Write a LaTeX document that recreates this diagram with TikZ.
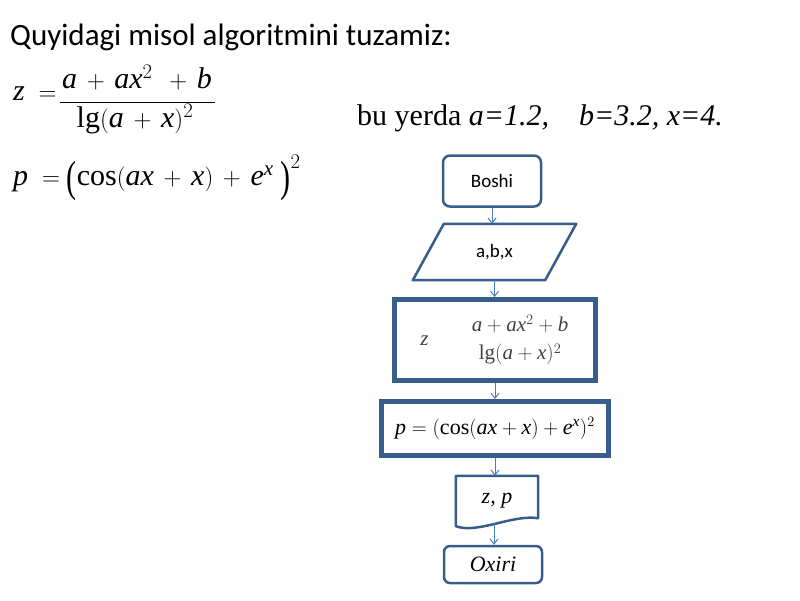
\documentclass[tikz,border=0pt]{standalone}
\usepackage{amsmath}
\usepackage{fontspec}
\setmainfont{Liberation Serif}
\newfontfamily\calib{Carlito}
\usetikzlibrary{arrows.meta}
\definecolor{boxblue}{HTML}{385D8A}
\definecolor{arrblue}{HTML}{4A7EBB}
\newcommand{\tallopen}{\mathopen{\raisebox{-0.2em}{\scalebox{1}[1.45]{(}}}}
\newcommand{\tallclose}{\mathclose{\raisebox{-0.2em}{\scalebox{1}[1.45]{)}}}}
\tikzset{
  termbox/.style={draw=boxblue, line width=2.5pt, rounded corners=7pt, minimum width=98pt, minimum height=51pt, inner sep=0pt},
  procbox/.style={draw=boxblue, line width=5pt, inner sep=0pt},
  iobox/.style={inner sep=0pt},
  shapeline/.style={draw=boxblue, line width=2.5pt, line join=round},
  flowarrow/.style={draw=arrblue, line width=1pt, -{Straight Barb[length=5pt,width=8pt]}},
  formula/.style={inner sep=0pt, anchor=base west},
}
\begin{document}
\begin{tikzpicture}[x=1pt,y=-1pt]
\useasboundingbox (0,0) rectangle (800,600);
% title
\node[formula] (title) at (10,45) {\calib\fontsize{31}{33}\selectfont Quyidagi misol algoritmini tuzamiz:};
% z formula
\node[formula] (zlhs) at (13,100) {\fontsize{30}{32}\selectfont$\mathit{z}\;=$};
\node[inner sep=0pt, anchor=base] (znum) at (137,88) {\fontsize{30}{32}\selectfont$\mathit{a}\,+\,\mathit{ax}^{2}\;\,+\,\mathit{b}$};
\node[inner sep=0pt, anchor=base] (zden) at (135,127) {\fontsize{30}{32}\selectfont$\lg(\mathit{a}\,+\,\mathit{x})^{2}$};
\draw[line width=0.8pt] (60,102) -- (215,102);
% p formula
\node[formula] (pform) at (13,185) {\fontsize{30}{32}\selectfont$\mathit{p}\;=\tallopen\cos(\mathit{ax}\,+\,\mathit{x})\,+\,\mathit{e}^{\mathit{x}}\;\tallclose^{2}$};
% given values
\node[formula] (given) at (357,125) {\fontsize{30}{31}\selectfont bu yerda \textit{a=1.2,\quad b=3.2, x=4.}};
% flowchart
\node[termbox] (start) at (492,181) {\calib\fontsize{19}{20}\selectfont Boshi\hspace{12pt}};
\node[iobox, minimum width=132pt, minimum height=56pt] (input) at (494.5,252) {\calib\fontsize{19}{20}\selectfont a,b,x};
\draw[shapeline] ([xshift=15.5pt]input.north west) -- ([xshift=15.5pt]input.north east)
  -- ([xshift=-15.5pt]input.south east) -- ([xshift=-15.5pt]input.south west) -- cycle;
\node[procbox, minimum width=201pt, minimum height=81pt] (calcz) at (495,340)
  {\color{black!75}\fontsize{21}{22}\selectfont$\mathit{z}\qquad\genfrac{}{}{0pt}{0}{\mathit{a}+\mathit{ax}^{2}+\mathit{b}}{\lg(\mathit{a}+\mathit{x})^{2}}$};
\node[procbox, minimum width=227pt, minimum height=54pt] (calcp) at (495,428.5)
  {\fontsize{22}{24}\selectfont$\mathit{p}=(\cos(\mathit{ax}+\mathit{x})+\mathit{e}^{\mathit{x}})^{2}$};
\node[iobox, minimum width=82pt, minimum height=50pt] (output) at (497,501) {\fontsize{22}{24}\selectfont\textit{z, p}};
\draw[shapeline] (output.north west) -- (output.north east) -- ([yshift=8pt]output.south east)
  .. controls ([xshift=-26pt,yshift=12pt]output.south east) and ([xshift=22pt,yshift=-8pt]output.south west) .. (output.south west) -- cycle;
\node[termbox, minimum height=37pt, rounded corners=6pt] (stop) at (493,564.5) {\fontsize{22}{24}\selectfont\textit{Oxiri}};
% connectors
\draw[flowarrow] (start.south) -- (start.south |- input.north);
\draw[flowarrow] (input.south) -- (input.south |- calcz.north);
\draw[flowarrow] (calcz.south) -- (calcz.south |- calcp.north);
\draw[flowarrow] (calcp.south) -- (calcp.south |- output.north);
\draw[flowarrow] ([xshift=-3pt,yshift=3pt]output.south) -- ([xshift=-3pt]output.south |- stop.north);
\end{tikzpicture}
\end{document}
